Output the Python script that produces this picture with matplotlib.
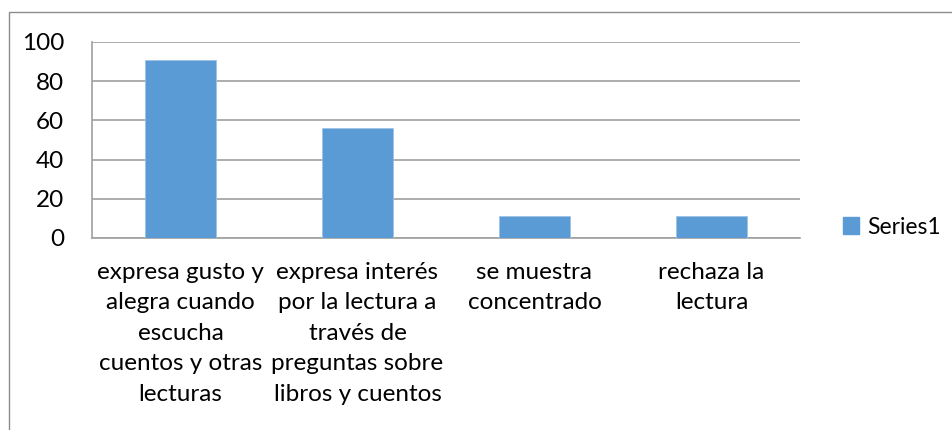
import matplotlib
matplotlib.use("Agg")
import matplotlib.pyplot as plt
from matplotlib.patches import Rectangle, Patch

categories = [
    "expresa gusto y\nalegra cuando\nescucha\ncuentos y otras\nlecturas",
    "expresa interés\npor la lectura a\ntravés de\npreguntas sobre\nlibros y cuentos",
    "se muestra\nconcentrado",
    "rechaza la\nlectura",
]
values = [91, 56, 11, 11]
yticks = [0, 20, 40, 60, 80, 100]
series_name = "Series1"

plt.rcParams['font.family'] = ['Lato', 'DejaVu Sans']

W, H = 953, 430
fig = plt.figure(figsize=(W / 100, H / 100), dpi=100)
ax = fig.add_axes([92 / W, (H - 238) / H, (800 - 92) / W, (238 - 42) / H])

bar_color = "#5B9BD5"
grid_color = "#A0A0A0"
x = list(range(len(values)))
ax.bar(x, values, width=0.4, color=bar_color, edgecolor="#9DC3E6", linewidth=0.6, zorder=3)
ax.set_xlim(-0.5, len(values) - 0.5)
ax.set_ylim(0, 100)
ax.set_yticks(yticks)
ax.set_yticklabels([str(v) for v in yticks], fontsize=17.5)
ax.set_xticks(x)
ax.set_xticklabels(categories, fontsize=17.5, linespacing=1.56)
ax.tick_params(axis='x', length=0, pad=17)
ax.tick_params(axis='y', length=0, pad=20)
ax.yaxis.grid(True, color=grid_color, linewidth=1.2, zorder=0)
ax.set_axisbelow(True)
for s in ['top', 'right']:
    ax.spines[s].set_visible(False)
for s in ['left', 'bottom']:
    ax.spines[s].set_color(grid_color)
    ax.spines[s].set_linewidth(1.2)

handle = Patch(facecolor=bar_color, edgecolor=bar_color)
fig.legend([handle], [series_name], loc='center left',
           bbox_to_anchor=(843 / W, (H - 227) / H), frameon=False,
           fontsize=16.5, handlelength=0.7, handleheight=0.7, handletextpad=0.35,
           borderpad=0, borderaxespad=0)

fig.patches.append(Rectangle((9 / W, -0.1), 1.2, (H - 12) / H + 0.1,
                             transform=fig.transFigure, fill=False,
                             edgecolor="#8C8C8C", linewidth=1.0))

fig.savefig("out.png", dpi=100, facecolor="white")
